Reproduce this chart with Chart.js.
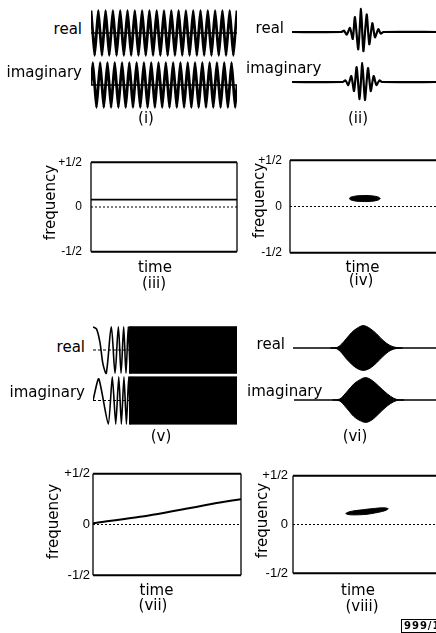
<!DOCTYPE html>
<html><head><meta charset="utf-8">
<script src="https://cdn.jsdelivr.net/npm/chart.js@4/dist/chart.umd.min.js"></script>
<style>
html,body{margin:0;padding:0;background:#fff;}
#page{position:relative;width:436px;height:633px;overflow:hidden;background:#fff;}
canvas{position:absolute;}
.t{position:absolute;font-family:"DejaVu Sans",sans-serif;font-size:15px;line-height:15px;color:#000;white-space:nowrap;}
.stamp{position:absolute;left:401px;top:619px;width:40px;height:12px;border:1px solid #000;font:bold 10px "DejaVu Sans",sans-serif;line-height:12px;letter-spacing:1px;padding-left:2px;color:#000;}
</style></head><body><div id="page"></div>
<script>
// ---------- DATA ----------
// (i) steady tone: quarter-cycle samples, 20 cycles
const realI = [1,0,-1,0,1,0,-1,0,1,0,-1,0,1,0,-1,0,1,0,-1,0,
               1,0,-1,0,1,0,-1,0,1,0,-1,0,1,0,-1,0,1,0,-1,0,
               1,0,-1,0,1,0,-1,0,1,0,-1,0,1,0,-1,0,1,0,-1,0,
               1,0,-1,0,1,0,-1,0,1,0,-1,0,1,0,-1,0,1,0,-1,0,1];
const imagI = [0,1,0,-1,0,1,0,-1,0,1,0,-1,0,1,0,-1,0,1,0,-1,
               0,1,0,-1,0,1,0,-1,0,1,0,-1,0,1,0,-1,0,1,0,-1,
               0,1,0,-1,0,1,0,-1,0,1,0,-1,0,1,0,-1,0,1,0,-1,
               0,1,0,-1,0,1,0,-1,0,1,0,-1,0,1,0,-1,0,1,0,-1,0];
// (ii) short burst
const timeIIr = [0,34,35.9,37.7,40,41.9,43.4,45.7,47.6,49.2,51.5,53.3,55.4,57.2,59.5,61.2,63,100];
const realII  = [0,0,0.06,-0.12,0.18,-0.3,0.64,-0.75,1.0,-0.83,0.76,-0.53,0.38,-0.23,0.12,-0.07,0,0];
const timeIIi = [0,35,36.9,38.8,40.9,42.8,44.6,46.6,48.5,50.3,52.4,54.3,56.3,58.2,60.3,62,100];
const imagII  = [0,0,0.08,-0.15,0.3,-0.45,0.75,-0.85,0.95,-0.9,0.7,-0.45,0.3,-0.15,0.08,0,0];
// (iii) constant frequency
const timeIII = [0,100];
const freqIII = [0.083,0.083];
// (iv) blob in time-frequency plane
const timeIV  = [40,41,43,46,50.5,55,58,60,61];
const upperIV = [0.086,0.100,0.109,0.116,0.119,0.116,0.109,0.100,0.086];
const lowerIV = [0.086,0.072,0.063,0.056,0.053,0.056,0.063,0.072,0.086];
const dotsTimeIV = [43,58];
const dotsFreqIV = [0.086,0.086];
// (v) linear chirp
const timeVr = [0,2.5,4.9,6.9,9.2,12.7,15.3,17.6,19.5,21.3,22.9,24.5,25.9,27.2];
const realV  = [1,0.9,0.3,-0.6,-1,1,-1,1,-1,1,-1,1,-1,1];
const timeVi = [0,4.0,10.6,13.4,15.8,17.9,19.7,21.5,23.2,24.8,26.2,27.5];
const imagV  = [0,0.92,-1,1,-1,1,-1,1,-1,1,-1,1];
const bandTimeV = [25,100];
const bandTopV = [1,1];
const bandBottomV = [-1,-1];
// (vi) chirped burst envelope
const timeVIr  = [26,30.3,33.8,37.3,40.7,44.2,48.8,53.5,58.1,62.7,67.4,72,76];
const upperVIr = [0,0.02,0.18,0.44,0.69,0.87,1.0,0.87,0.63,0.33,0.11,0.02,0];
const lowerVIr = [0,-0.03,-0.22,-0.5,-0.72,-0.9,-1.0,-0.9,-0.66,-0.36,-0.12,-0.02,0];
const timeVIi  = [27,31.5,37.3,41.9,46.5,50,54.7,59.2,65.1,69.7,73.1,77];
const upperVIi = [0,0.03,0.39,0.72,0.92,1.0,0.87,0.62,0.28,0.08,0.01,0];
const lowerVIi = [0,-0.03,-0.4,-0.74,-0.93,-1.0,-0.88,-0.62,-0.27,-0.08,-0.01,0];
// (vii) chirp frequency line
const timeVII = [0,38.5,85.8,100];
const freqVII = [0.012,0.092,0.216,0.25];
// (viii) tilted blob
const timeVIII  = [35.6,37,40,45,50,55,60,63,64.4];
const upperVIII = [0.112,0.125,0.137,0.148,0.157,0.165,0.171,0.169,0.162];
const lowerVIII = [0.112,0.103,0.099,0.100,0.105,0.117,0.133,0.147,0.162];
// axis ticks
const freqTicks = [-0.5,0,0.5];
const freqTickLabels = ['-1/2','0','+1/2'];
const zeroTime = [0,100];
const zeroFreq = [0,0];

// ---------- HELPERS ----------
const page = document.getElementById('page');
const xy = (ts, vs) => ts.map((t,i)=>({x:t,y:vs[i]}));
const qtr = arr => arr.map((v,i)=>({x:i/4,y:v}));

function addCanvas(left, top, w, h){
  const c = document.createElement('canvas');
  c.width=w; c.height=h;
  c.style.left=left+'px'; c.style.top=top+'px';
  c.style.width=w+'px'; c.style.height=h+'px';
  page.appendChild(c); return c;
}
function line(data, o){
  return Object.assign({data, borderColor:'#000', backgroundColor:'#000', borderWidth:1.8,
    pointRadius:0, tension:0, fill:false}, o||{});
}
const base = {animation:false, responsive:false, devicePixelRatio:1, events:[],
  plugins:{legend:{display:false}, tooltip:{enabled:false}}};

function waveChart(left, right, centerY, amp, tmin, tmax, datasets){
  const pad = 1.25;
  const h = Math.round(2*pad*amp);
  const top = Math.round(centerY - h/2);
  const c = addCanvas(left, top, right-left, h);
  new Chart(c, {type:'line', data:{datasets}, options:Object.assign({}, base, {
    layout:{padding:0},
    scales:{x:{type:'linear', display:false, min:tmin, max:tmax},
            y:{display:false, min:-pad, max:pad}}})});
}

const framePlugin = {id:'frame', afterDatasetsDraw(chart){
  const {ctx, chartArea:a} = chart;
  ctx.save(); ctx.strokeStyle='#000';
  ctx.lineWidth=2; ctx.beginPath();
  ctx.moveTo(a.left,a.top); ctx.lineTo(a.right,a.top);
  ctx.moveTo(a.left,a.bottom); ctx.lineTo(a.right,a.bottom); ctx.stroke();
  ctx.lineWidth=1.3; ctx.beginPath();
  ctx.moveTo(a.left,a.top); ctx.lineTo(a.left,a.bottom);
  ctx.moveTo(a.right,a.top); ctx.lineTo(a.right,a.bottom); ctx.stroke();
  ctx.restore();
}};

function freqChart(L, R, T, B, tickPad, tickSize, datasets){
  const yw = 60, pad = 10;
  const c = addCanvas(L-yw, T-pad, yw+(R-L)+pad, (B-T)+2*pad);
  new Chart(c, {type:'line', data:{datasets}, plugins:[framePlugin], options:Object.assign({}, base, {
    layout:{padding:{top:pad, right:pad, bottom:pad, left:0}},
    scales:{
      x:{type:'linear', display:false, min:0, max:100},
      y:{min:-0.5, max:0.5,
         afterFit(s){ s.width = yw; },
         afterBuildTicks(s){ s.ticks = freqTicks.map(v=>({value:v})); },
         grid:{display:false, drawTicks:false}, border:{display:false},
         ticks:{padding:tickPad, color:'#000', font:{family:'Liberation Sans', size:tickSize},
                callback:(v,i)=>freqTickLabels[i]}}}})});
}

function label(text, x, y, align, size){
  const d = document.createElement('div');
  d.className='t'; d.textContent=text;
  const fs = size||15;
  d.style.fontSize=fs+'px'; d.style.lineHeight=fs+'px';
  d.style.top=(y - fs*0.575)+'px';
  if(align==='right'){ d.style.left=(x-200)+'px'; d.style.width='200px'; d.style.textAlign='right'; }
  else if(align==='center'){ d.style.left=(x-100)+'px'; d.style.width='200px'; d.style.textAlign='center'; }
  else { d.style.left=x+'px'; }
  page.appendChild(d);
}
function vlabel(text, cx, cy){
  const d = document.createElement('div');
  d.className='t'; d.textContent=text;
  d.style.left=(cx-60)+'px'; d.style.width='120px'; d.style.textAlign='center';
  d.style.top=(cy-7.5)+'px'; d.style.transform='rotate(-90deg)';
  page.appendChild(d);
}

// ---------- PANELS ----------
// (i)
waveChart(91, 237, 33, 22.5, 0, 20, [
  line(xy([0,20],[0,0]), {borderWidth:1.5}),
  line(qtr(realI), {borderWidth:2.8, tension:0.12})]);
waveChart(91, 237, 84.5, 22.5, 0, 20, [
  line(xy([0,20],[0,0]), {borderWidth:1.5}),
  line(qtr(imagI), {borderWidth:2.8, tension:0.12})]);
// (ii)
waveChart(292, 437, 31.5, 23, 0, 100, [line(xy(timeIIr, realII), {borderWidth:2.2, tension:0.2})]);
waveChart(292, 437, 82, 20, 0, 100, [line(xy(timeIIi, imagII), {borderWidth:2.2, tension:0.2})]);
// (iii)
freqChart(91, 237, 156, 258, 9, 12, [
  line(xy(zeroTime, zeroFreq), {borderWidth:1, borderDash:[2,2]}),
  line(xy(timeIII, freqIII), {borderWidth:1.8})]);
// (iv)
freqChart(290, 438, 155, 258, 8, 12, [
  line(xy(zeroTime, zeroFreq), {borderWidth:1, borderDash:[2,2]}),
  line(xy(timeIV, upperIV), {borderWidth:1, tension:0.3}),
  line(xy(timeIV, lowerIV), {borderWidth:1, tension:0.3, fill:'-1'}),
  line(xy(dotsTimeIV, dotsFreqIV), {borderWidth:1, borderColor:'#fff', borderDash:[1,3]})]);
// (v)
waveChart(93, 237, 349.5, 23, 0, 100, [
  line(xy(zeroTime, zeroFreq), {borderWidth:1, borderDash:[3,2]}),
  line(xy(timeVr, realV), {borderWidth:1.6, tension:0.3}),
  line(xy(bandTimeV, bandTopV), {borderWidth:1}),
  line(xy(bandTimeV, bandBottomV), {borderWidth:1, fill:'-1'})]);
waveChart(93, 237, 400.5, 23.5, 0, 100, [
  line(xy(zeroTime, zeroFreq), {borderWidth:1, borderDash:[3,2]}),
  line(xy(timeVi, imagV), {borderWidth:1.6, tension:0.2}),
  line(xy(bandTimeV, bandTopV), {borderWidth:1}),
  line(xy(bandTimeV, bandBottomV), {borderWidth:1, fill:'-1'})]);
// (vi)
waveChart(293, 437, 347.5, 22.5, 0, 100, [
  line(xy(zeroTime, zeroFreq), {borderWidth:1.6}),
  line(xy(timeVIr, upperVIr), {borderWidth:1, cubicInterpolationMode:'monotone'}),
  line(xy(timeVIr, lowerVIr), {borderWidth:1, cubicInterpolationMode:'monotone', fill:'-1'})]);
waveChart(294, 437, 399.5, 22.5, 0, 100, [
  line(xy(zeroTime, zeroFreq), {borderWidth:1.6}),
  line(xy(timeVIi, upperVIi), {borderWidth:1, cubicInterpolationMode:'monotone'}),
  line(xy(timeVIi, lowerVIi), {borderWidth:1, cubicInterpolationMode:'monotone', fill:'-1'})]);
// (vii)
freqChart(93, 241, 473, 576, 3, 13, [
  line(xy(zeroTime, zeroFreq), {borderWidth:1, borderDash:[2,2]}),
  line(xy(timeVII, freqVII), {borderWidth:2, tension:0.2})]);
// (viii)
freqChart(293, 441, 473, 576, 5, 13, [
  line(xy(zeroTime, zeroFreq), {borderWidth:1, borderDash:[2,2]}),
  line(xy(timeVIII, upperVIII), {borderWidth:1, tension:0.3}),
  line(xy(timeVIII, lowerVIII), {borderWidth:1, tension:0.3, fill:'-1'})]);

// ---------- TEXT ----------
label('real', 82, 31, 'right');
label('imaginary', 82, 74, 'right');
label('(i)', 146, 120, 'center');
label('real', 284, 29.5, 'right');
label('imaginary', 246, 70);
label('(ii)', 358, 120, 'center');
vlabel('frequency', 49.5, 202.5);
label('time', 155, 269, 'center');
label('(iii)', 154, 285, 'center');
vlabel('frequency', 258.5, 200);
label('time', 362.5, 269, 'center');
label('(iv)', 361, 282, 'center');
label('real', 85, 348.5, 'right');
label('imaginary', 85, 394, 'right');
label('(v)', 161, 438, 'center');
label('real', 285, 346, 'right');
label('imaginary', 247, 393);
label('(vi)', 355, 438, 'center');
vlabel('frequency', 53, 521.5);
label('time', 156.5, 592, 'center');
label('(vii)', 153, 607, 'center');
vlabel('frequency', 261.5, 520.5);
label('time', 358, 592, 'center');
label('(viii)', 362, 608, 'center');
const st = document.createElement('div'); st.className='stamp'; st.textContent='999/1'; page.appendChild(st);
</script>
</body></html>
